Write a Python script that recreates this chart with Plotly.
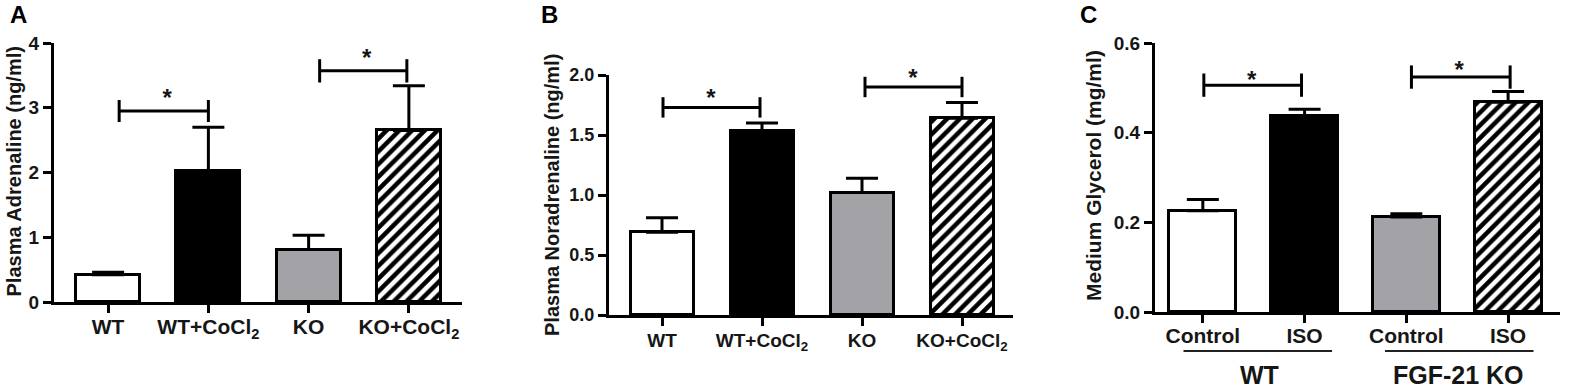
import plotly.graph_objects as go

# ---------------- data ----------------
ab_labels = ["WT", "WT+CoCl<sub>2</sub>", "KO", "KO+CoCl<sub>2</sub>"]
c_labels = ["Control", "ISO", "Control", "ISO"]
c_groups = ["WT", "FGF-21 KO"]
c_group_span = [(-0.19, 1.27), (1.79, 3.25)]
c_group_center = [0.56, 2.51]

a_means = [0.42, 2.03, 0.81, 2.65]
a_sem = [0.04, 0.67, 0.22, 0.69]
b_means = [0.69, 1.53, 1.02, 1.64]
b_sem = [0.12, 0.07, 0.12, 0.13]
c_means = [0.226, 0.437, 0.212, 0.468]
c_sem = [0.025, 0.015, 0.007, 0.024]

# significance brackets: (x_left, x_right, y, half_height, star_x, star_y)
a_brackets = [(0.11, 1.0, 2.95, 0.17, 0.59, 3.12), (2.11, 2.98, 3.57, 0.18, 2.58, 3.74)]
b_brackets = [(0.01, 0.98, 1.73, 0.085, 0.49, 1.79), (2.03, 3.0, 1.90, 0.085, 2.51, 1.96)]
c_brackets = [(0.01, 0.97, 0.506, 0.026, 0.48, 0.512), (2.05, 3.02, 0.524, 0.026, 2.52, 0.535)]

x_pos = [0, 1, 2, 3]

# ---------------- styling ----------------
FONT = "Liberation Sans, Arial, sans-serif"
INK = "#161616"
GRAY = "#a3a3a7"
fills = ["white", "black", GRAY, "black"]
shapes_pat = ["", "", "", "/"]

fig = go.Figure()

panels = [
    dict(means=a_means, sem=a_sem, labels=ab_labels, br=a_brackets, xa="x", ya="y",
         xdom=[54 / 1575, 462 / 1575], ydom=[(388 - 302) / 388, (388 - 43) / 388],
         xr=[-0.54, 3.53], yr=[0, 4], dtick=1, fmt="d", tickfs=19, labfs=21, bw=0.64, so=-4),
    dict(means=b_means, sem=b_sem, labels=ab_labels, br=b_brackets, xa="x2", ya="y2",
         xdom=[609 / 1575, 1013 / 1575], ydom=[(388 - 315) / 388, (388 - 75) / 388],
         xr=[-0.53, 3.51], yr=[0, 2], dtick=0.5, fmt=".1f", tickfs=18, labfs=19, bw=0.63, so=-2),
    dict(means=c_means, sem=c_sem, labels=c_labels, br=c_brackets, xa="x3", ya="y3",
         xdom=[1155 / 1575, 1560 / 1575], ydom=[(388 - 312) / 388, (388 - 43) / 388],
         xr=[-0.47, 3.51], yr=[0, 0.6], dtick=0.2, fmt=".1f", tickfs=19, labfs=21, bw=0.66, so=-5),
]

layout_axes = {}
for i, p in enumerate(panels):
    fig.add_trace(go.Bar(
        x=x_pos, y=p["means"], width=p["bw"], xaxis=p["xa"], yaxis=p["ya"],
        marker=dict(color=fills, line=dict(color="black", width=3),
                    pattern=dict(shape=shapes_pat, fillmode="replace", bgcolor="black",
                                 fgcolor="white", size=9, solidity=0.5)),
        error_y=dict(type="data", symmetric=False, array=p["sem"], arrayminus=[0] * 4,
                     color="black", thickness=3, width=16),
        cliponaxis=False, showlegend=False, hoverinfo="skip",
    ))
    for (xl, xr_, yb, hh, sx, sy) in p["br"]:
        fig.add_trace(go.Scatter(
            x=[xl, xl, None, xl, xr_, None, xr_, xr_],
            y=[yb - hh, yb + hh, None, yb, yb, None, yb - hh, yb + hh],
            mode="lines", line=dict(color="black", width=3), cliponaxis=False,
            xaxis=p["xa"], yaxis=p["ya"], showlegend=False, hoverinfo="skip"))
        fig.add_trace(go.Scatter(
            x=[sx], y=[sy], mode="text", text=["*"], cliponaxis=False,
            textfont=dict(family=FONT, size=24, color=INK, weight="bold"),
            textposition="middle center",
            xaxis=p["xa"], yaxis=p["ya"], showlegend=False, hoverinfo="skip"))
    suffix = "" if i == 0 else str(i + 1)
    layout_axes["xaxis" + suffix] = dict(
        domain=p["xdom"], range=p["xr"], anchor=p["ya"], showline=True, linewidth=3,
        linecolor="black", ticks="outside", ticklen=8, tickwidth=3, tickcolor="black",
        tickvals=x_pos, ticktext=p["labels"], showgrid=False, zeroline=False,
        automargin=False, ticklabelstandoff=p["so"],
        tickfont=dict(family=FONT, size=p["labfs"], color=INK, weight="bold"),
        fixedrange=True)
    layout_axes["yaxis" + suffix] = dict(
        domain=p["ydom"], range=p["yr"], anchor=p["xa"], showline=True, linewidth=3,
        linecolor="black", ticks="outside", ticklen=8, tickwidth=3, tickcolor="black",
        dtick=p["dtick"], tick0=0, tickformat=p["fmt"], showgrid=False, zeroline=False,
        automargin=False,
        tickfont=dict(family=FONT, size=p["tickfs"], color=INK, weight="bold"),
        fixedrange=True)

annotations = []
# panel letters
for letter, x in [("A", 18), ("B", 549), ("C", 1088)]:
    annotations.append(dict(text=letter, x=x / 1575, y=(388 - 15) / 388, xref="paper", yref="paper",
                            showarrow=False, xanchor="center", yanchor="middle",
                            font=dict(family=FONT, size=24, color="black", weight="bold")))
# y titles
for title, x, y, fs in [("Plasma Adrenaline (ng/ml)", 13.5, 172, 20),
                        ("Plasma Noradrenaline (ng/ml)", 552, 195, 20),
                        ("Medium Glycerol (mg/ml)", 1093, 176, 21)]:
    annotations.append(dict(text=title, x=x / 1575, y=(388 - y) / 388, xref="paper", yref="paper",
                            showarrow=False, textangle=-90, xanchor="center", yanchor="middle",
                            font=dict(family=FONT, size=fs, color=INK, weight="bold")))
# group labels in panel C
shapes = []
for g, (x0, x1), xc in zip(c_groups, c_group_span, c_group_center):
    shapes.append(dict(type="line", xref="x3", yref="paper", x0=x0, x1=x1,
                       y0=(388 - 351) / 388, y1=(388 - 351) / 388,
                       line=dict(color="#222222", width=2)))
    annotations.append(dict(text=g, x=xc, y=(388 - 375) / 388, xref="x3", yref="paper",
                            showarrow=False, xanchor="center", yanchor="middle",
                            font=dict(family=FONT, size=25, color=INK, weight="bold")))

fig.update_layout(
    width=1575, height=388, margin=dict(l=0, r=0, t=0, b=0, pad=0, autoexpand=False),
    paper_bgcolor="white", plot_bgcolor="white", showlegend=False,
    annotations=annotations, shapes=shapes, bargap=0,
    **layout_axes,
)

fig.write_html("out.html", config={"displayModeBar": False},
               post_script="document.body.style.margin='0px';document.body.style.padding='0px';")
